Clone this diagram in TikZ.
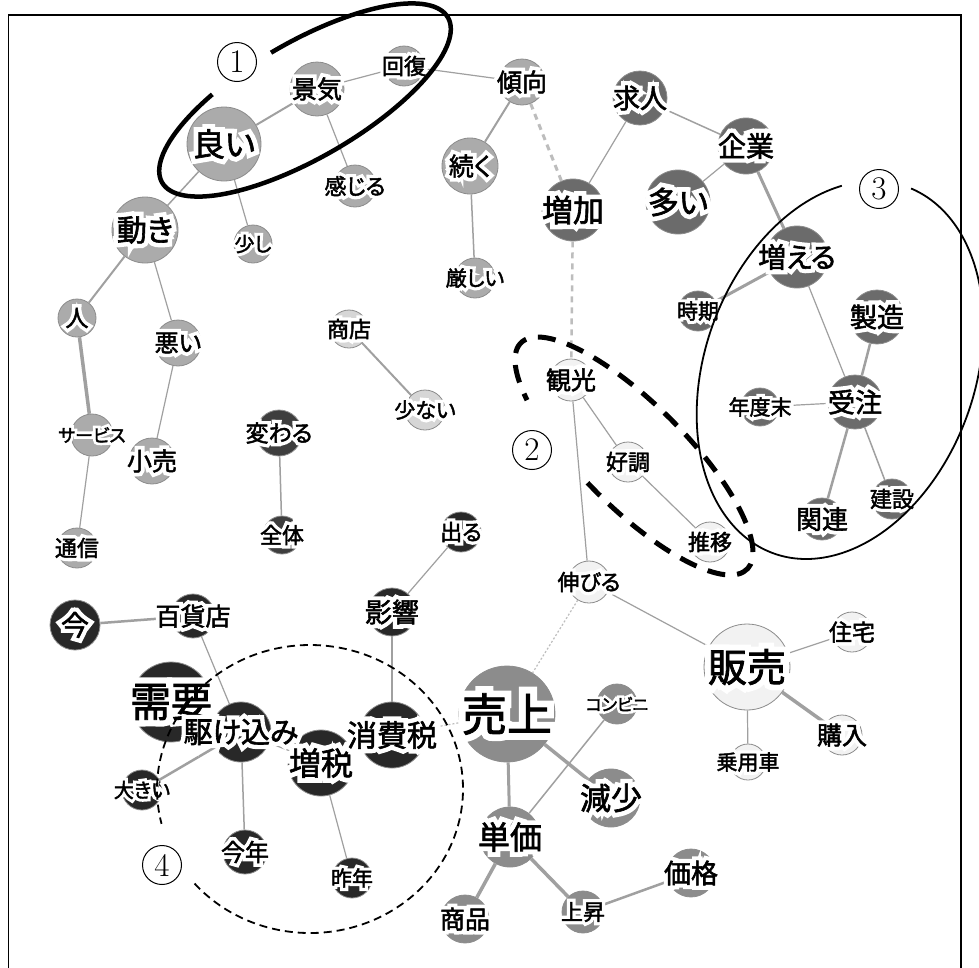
\documentclass[tikz,border=0pt]{standalone}
\usepackage{fontspec}
\newfontfamily\jp[RawFeature=+palt,FakeBold=2]{Noto Sans CJK JP}
\newfontfamily\jph[RawFeature=+palt,FakeBold=32]{Noto Sans CJK JP}
\pgfdeclarelayer{fg}
\pgfdeclarelayer{top}
\pgfsetlayers{main,fg,top}
\definecolor{gA}{HTML}{ABABAB}
\definecolor{gB}{HTML}{6B6B6B}
\definecolor{gC}{HTML}{F2F2F2}
\definecolor{gD}{HTML}{D6D6D6}
\definecolor{gE}{HTML}{3E3E3E}
\definecolor{gF}{HTML}{282828}
\definecolor{gG}{HTML}{8C8C8C}
\definecolor{edgecol}{HTML}{A0A0A0}
\definecolor{dashcol}{HTML}{BDBDBD}
\tikzset{
  wnode/.style={circle, draw=black!45, line width=0.8pt, inner sep=0pt},
  ed/.style={draw=edgecol, line width=#1},
  ed/.default=1.2pt,
  dashed edge/.style={draw=dashcol, line width=3pt, dash pattern=on 6pt off 5pt},
  dotted edge/.style={draw=dashcol, line width=1.2pt, dash pattern=on 2pt off 2pt},
  numlabel/.style={circle, draw, line width=1pt, minimum size=39pt, inner sep=0pt, font=\fontsize{33pt}{33pt}\selectfont},
}
% name, x, y, radius, fill, fontsize, text
\newcommand\wn[7]{%
  \node[wnode, fill=#5, minimum size=2*#4pt] (#1) at (#2,-#3) {};
  \begin{pgfonlayer}{fg}
  \node[text=white, inner sep=0pt, font=\jph\fontsize{#6pt}{#6pt}\selectfont] (#1-h) at (#1) {#7};
  \node[text=black, inner sep=0pt, font=\jp\fontsize{#6pt}{#6pt}\selectfont] (#1-t) at (#1) {#7};
  \end{pgfonlayer}}
\begin{document}
\begin{tikzpicture}[x=1pt,y=1pt]
\useasboundingbox (0,0) rectangle (979,-967);
\fill[white] (0,0) rectangle (979,-967);
\draw[line width=1.6pt] (8.5,-980) -- (8.5,-15) -- (961,-15) -- (961,-980);

% group A
\wn{yoi}{224}{144}{37}{gA}{32}{良い}
\wn{keiki}{317}{89}{27}{gA}{25}{景気}
\wn{kaifuku}{404}{66}{20}{gA}{22}{回復}
\wn{keikou}{522}{82}{23}{gA}{25}{傾向}
\wn{tsuzuku}{470}{166}{28}{gA}{25}{続く}
\wn{kibishii}{475}{278}{20}{gA}{21}{厳しい}
\wn{kanjiru}{355}{186}{21}{gA}{22}{感じる}
\wn{sukoshi}{253}{244}{19}{gA}{20}{少し}
\wn{ugoki}{145}{230}{33}{gA}{30}{動き}
\wn{hito}{77}{318}{19}{gA}{23}{人}
\wn{warui}{178}{343}{23}{gA}{24}{悪い}
\wn{service}{92}{435}{21}{gA}{18}{サービス}
\wn{kouri}{152}{461}{23}{gA}{25}{小売}
\wn{tsushin}{77}{548}{20}{gA}{22}{通信}
% group B
\wn{zouka}{573}{210}{31}{gB}{31}{増加}
\wn{kyujin}{640}{98}{27}{gB}{27}{求人}
\wn{kigyou}{746}{146}{28}{gB}{28}{企業}
\wn{ooi}{678}{202}{32}{gB}{31}{多い}
\wn{fueru}{797}{257}{31}{gB}{28}{増える}
\wn{jiki}{698}{311}{20}{gB}{21}{時期}
\wn{seizou}{877}{317}{27}{gB}{27}{製造}
\wn{juchu}{855}{402}{27}{gB}{27}{受注}
\wn{nendomatsu}{760}{407}{19}{gB}{21}{年度末}
\wn{kanren}{822}{519}{21}{gB}{26}{関連}
\wn{kensetsu}{892}{499}{20}{gB}{22}{建設}
% group C
\wn{kankou}{571}{380}{21}{gC}{25}{観光}
\wn{kouchou}{628}{462}{20}{gC}{22}{好調}
\wn{suii}{710}{542}{20}{gC}{22}{推移}
\wn{nobiru}{589}{582}{21}{gC}{22}{伸びる}
\wn{hanbai}{747}{667}{43}{gC}{39}{販売}
\wn{jutaku}{852}{632}{20}{gC}{23}{住宅}
\wn{kounyu}{842}{735}{20}{gC}{25}{購入}
\wn{jouyousha}{748}{762}{18}{gC}{21}{乗用車}
% group D
\wn{shouten}{349}{329}{19}{gD}{22}{商店}
\wn{sukunai}{425}{410}{20}{gD}{21}{少ない}
% group E
\wn{kawaru}{279}{433}{23}{gE}{23}{変わる}
\wn{zentai}{282}{535}{19}{gE}{22}{全体}
% group F
\wn{deru}{461}{532}{20}{gF}{22}{出る}
\wn{eikyou}{392}{612}{24}{gF}{27}{影響}
\wn{ima}{75}{625}{25}{gF}{28}{今}
\wn{hyakkaten}{193}{616}{22}{gF}{25}{百貨店}
\wn{juyou}{171}{702}{40}{gF}{41}{需要}
\wn{kakekomi}{241}{732}{30}{gF}{29}{駆け込み}
\wn{ookii}{142}{790}{20}{gF}{20}{大きい}
\wn{kotoshi}{245}{852}{22}{gF}{24}{今年}
\wn{zouzei}{321}{763}{33}{gF}{32}{増税}
\wn{sakunen}{352}{878}{20}{gF}{21}{昨年}
\wn{shouhizei}{392}{735}{33}{gF}{30}{消費税}
% group G
\wn{uriage}{507}{714}{48}{gG}{45}{売上}
\wn{conveni}{617}{704}{20}{gG}{17}{コンビニ}
\wn{genshou}{611}{798}{29}{gG}{31}{減少}
\wn{tanka}{510}{837}{30}{gG}{32}{単価}
\wn{shouhin}{465}{919}{24}{gG}{25}{商品}
\wn{joushou}{583}{912}{21}{gG}{22}{上昇}
\wn{kakaku}{691}{873}{24}{gG}{27}{価格}

% edges
\draw[ed=2pt] (yoi) -- (keiki);
\draw[ed] (keiki) -- (kaifuku);
\draw[ed] (keiki) -- (kanjiru);
\draw[ed] (kaifuku) -- (keikou);
\draw[ed=2pt] (keikou) -- (tsuzuku);
\draw[dashed edge] (keikou) -- (zouka);
\draw[ed=1.5pt] (tsuzuku) -- (kibishii);
\draw[ed=1.5pt] (yoi) -- (ugoki);
\draw[ed] (yoi) -- (sukoshi);
\draw[ed=2pt] (ugoki) -- (hito);
\draw[ed] (ugoki) -- (warui);
\draw[ed=3.5pt] (hito) -- (service);
\draw[ed] (service) -- (tsushin);
\draw[ed] (warui) -- (kouri);
\draw[ed=2pt] (shouten) -- (sukunai);
\draw[ed=1.5pt] (kawaru) -- (zentai);
\draw[ed] (zouka) -- (kyujin);
\draw[ed=1.5pt] (kyujin) -- (kigyou);
\draw[ed] (kigyou) -- (ooi);
\draw[ed=3pt] (kigyou) -- (fueru);
\draw[ed=3pt] (fueru) -- (jiki);
\draw[ed] (fueru) -- (juchu);
\draw[ed=2.5pt] (juchu) -- (seizou);
\draw[ed] (juchu) -- (nendomatsu);
\draw[ed=2.5pt] (juchu) -- (kanren);
\draw[ed=1.5pt] (juchu) -- (kensetsu);
\draw[dashed edge, line width=2.5pt] (zouka) -- (kankou);
\draw[ed] (kankou) -- (kouchou);
\draw[ed] (kouchou) -- (suii);
\draw[ed] (kankou) -- (nobiru);
\draw[ed] (nobiru) -- (hanbai);
\draw[dotted edge] (nobiru) -- (uriage);
\draw[ed] (hanbai) -- (jutaku);
\draw[ed=3.5pt] (hanbai) -- (kounyu);
\draw[ed] (hanbai) -- (jouyousha);
\draw[ed] (deru) -- (eikyou);
\draw[ed] (eikyou) -- (shouhizei);
\draw[dotted edge] (shouhizei) -- (uriage);
\draw[ed] (kakekomi) -- (zouzei);
\draw[ed] (kakekomi) -- (hyakkaten);
\draw[ed=2.5pt] (ima) -- (hyakkaten);
\draw[ed=2.5pt] (kakekomi) -- (ookii);
\draw[ed=1.5pt] (kakekomi) -- (kotoshi);
\draw[ed] (zouzei) -- (sakunen);
\draw[ed=3pt] (uriage) -- (tanka);
\draw[ed=3.5pt] (uriage) -- (genshou);
\draw[ed=1.5pt] (tanka) -- (conveni);
\draw[ed=3.5pt] (tanka) -- (shouhin);
\draw[ed=3.5pt] (tanka) -- (joushou);
\draw[ed=2.5pt] (joushou) -- (kakaku);

% annotations
\begin{pgfonlayer}{top}
\node[numlabel] (n1) at (237,-62) {1};
\node[numlabel] (n2) at (532,-450) {2};
\node[numlabel] (n3) at (879,-189) {3};
\node[numlabel] (n4) at (162,-865) {4};
\begin{scope}[shift={(305,-100)}, rotate=30]
\draw[line width=4.5pt] (118:165 and 58) arc[start angle=118, end angle=452, x radius=165, y radius=58];
\end{scope}
\begin{scope}[shift={(634,-456)}, rotate=-45]
\draw[line width=5pt, dash pattern=on 18pt off 12pt] (265:160 and 52) arc[start angle=265, end angle=584, x radius=160, y radius=52];
\end{scope}
\begin{scope}[shift={(840,-370)}, rotate=-20]
\draw[line width=1.8pt] (117:135 and 195) arc[start angle=117, end angle=448, x radius=135, y radius=195];
\end{scope}
\begin{scope}[shift={(310,-789)}]
\draw[line width=1.8pt, dash pattern=on 8pt off 5pt] (221:153 and 144) arc[start angle=221, end angle=554, x radius=153, y radius=144];
\end{scope}
\end{pgfonlayer}
\end{tikzpicture}
\end{document}
